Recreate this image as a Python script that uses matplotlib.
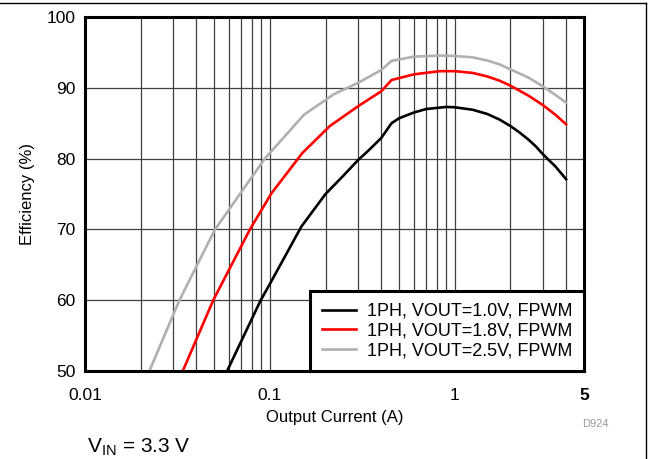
import matplotlib
matplotlib.use("Agg")
import matplotlib.pyplot as plt
from matplotlib.ticker import FixedLocator, NullFormatter
from matplotlib.lines import Line2D

plt.rcParams['font.family'] = ['Liberation Sans', 'DejaVu Sans']

# efficiency curves (output current in A, efficiency in %)
i_10 = [0.0587, 0.0892, 0.1, 0.148, 0.2, 0.25, 0.3, 0.34, 0.4, 0.455, 0.5, 0.6, 0.7, 0.9, 1.0,
        1.25, 1.5, 1.75, 2.0, 2.25, 2.5, 2.75, 3.0, 3.5, 4.0]
eff_10 = [50, 60, 62.3, 70.4, 75.0, 77.6, 79.8, 81.1, 82.9, 85.0, 85.7, 86.5, 87.0, 87.3, 87.25,
          86.9, 86.3, 85.5, 84.6, 83.65, 82.7, 81.7, 80.6, 78.9, 77.1]

i_18 = [0.0338, 0.0494, 0.078, 0.102, 0.15, 0.211, 0.3, 0.4, 0.455, 0.6, 0.83, 1.0,
        1.25, 1.5, 1.75, 2.0, 2.5, 3.0, 3.5, 4.0]
eff_18 = [50, 60, 70, 75.1, 80.8, 84.6, 87.4, 89.5, 91.1, 91.9, 92.35, 92.35,
          92.1, 91.6, 91.0, 90.3, 88.9, 87.55, 86.2, 84.85]

i_25 = [0.0223, 0.0324, 0.0505, 0.0939, 0.153, 0.222, 0.3, 0.4, 0.455, 0.6, 0.83, 1.0,
        1.25, 1.5, 1.75, 2.0, 2.5, 3.0, 3.5, 4.0]
eff_25 = [50, 60, 70, 80, 86.2, 89.1, 90.7, 92.5, 93.8, 94.4, 94.55, 94.5,
          94.3, 93.85, 93.3, 92.6, 91.45, 90.2, 89.0, 87.9]

labels = ['1PH, VOUT=1.0V, FPWM', '1PH, VOUT=1.8V, FPWM', '1PH, VOUT=2.5V, FPWM']
colors = ['black', '#ff0000', '#b0b0b0']

x_major = [0.01, 0.1, 1, 5]
x_major_labels = ['0.01', '0.1', '1', '5']
x_minor = [0.02, 0.03, 0.04, 0.05, 0.06, 0.07, 0.08, 0.09,
           0.2, 0.3, 0.4, 0.5, 0.6, 0.7, 0.8, 0.9, 2, 3, 4]
y_ticks = [50, 60, 70, 80, 90, 100]

fig = plt.figure(figsize=(6.49, 4.59), dpi=100)
ax = fig.add_axes([85 / 649, 1 - 371 / 459, 499 / 649, 354 / 459])

for xs, ys, c, lab in zip([i_10, i_18, i_25], [eff_10, eff_18, eff_25], colors, labels):
    ax.plot(xs, ys, color=c, lw=1.9, label=lab, zorder=3)

ax.set_xscale('log')
ax.set_xlim(0.01, 5)
ax.set_ylim(50, 100)
ax.xaxis.set_major_locator(FixedLocator(x_major))
ax.xaxis.set_minor_locator(FixedLocator(x_minor))
ax.xaxis.set_minor_formatter(NullFormatter())
ax.set_xticklabels(x_major_labels)
ax.set_yticks(y_ticks)
ax.tick_params(which='both', length=0, labelsize=12.5)
ax.tick_params(axis='x', pad=12)
ax.tick_params(axis='y', pad=7)
ax.get_xticklabels()[-1].set_fontweight('bold')

ax.grid(which='both', color='#404040', lw=0.9)
for s in ax.spines.values():
    s.set_linewidth(2.2)
    s.set_zorder(5)

ax.set_xlabel('Output Current (A)', fontsize=12, labelpad=5)
ax.set_ylabel('Efficiency (%)', fontsize=12, labelpad=8)

leg = ax.legend(loc='lower right', borderaxespad=0, fancybox=False, fontsize=13,
                handlelength=1.9, handletextpad=0.6, labelspacing=0.15, borderpad=0.65,
                framealpha=1)
leg.get_frame().set_edgecolor('black')
leg.get_frame().set_linewidth(2.2)
leg.set_zorder(6)

fig.text(87 / 649, 1 - 452 / 459, r'V$_{\mathregular{IN}}$ = 3.3 V', fontsize=15,
         ha='left', va='baseline')
fig.text(595 / 649, 1 - 424 / 459, 'D924', fontsize=8, color='#999999',
         ha='center', va='center')

# frame at the top and right of the picture
fig.add_artist(Line2D([0, 645.5 / 649], [1 - 2.5 / 459, 1 - 2.5 / 459], color='black', lw=1))
fig.add_artist(Line2D([645.5 / 649, 645.5 / 649], [0, 1 - 2.5 / 459], color='black', lw=1))

fig.savefig('out.png', dpi=100)
